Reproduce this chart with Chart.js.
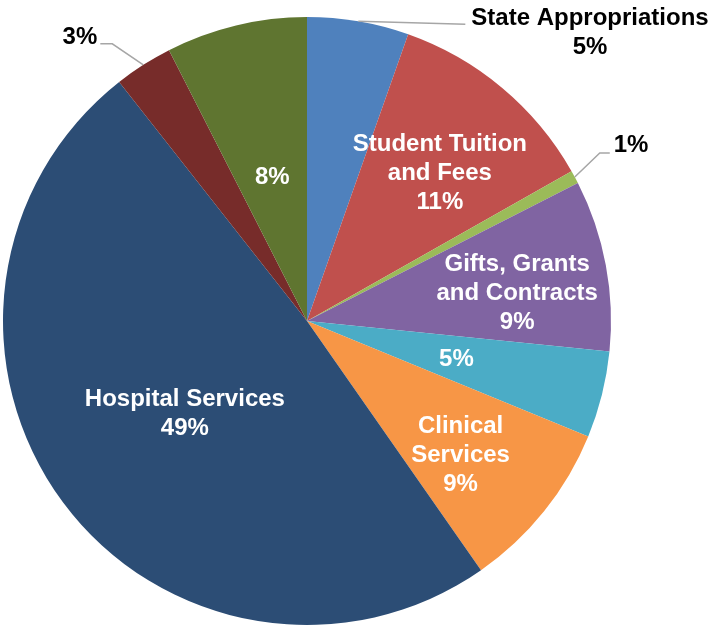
<!DOCTYPE html>
<html>
<head>
<meta charset="utf-8">
<script src="https://cdn.jsdelivr.net/npm/chart.js@4/dist/chart.umd.min.js"></script>
<style>
  html, body { margin: 0; padding: 0; background: #ffffff; }
  #wrap { width: 717px; height: 626px; }
</style>
</head>
<body>
<div id="wrap"><canvas id="revenue" width="717" height="626"></canvas></div>
<script>
// Revenue sources, clockwise from 12 o'clock
const categories = [
  'State Appropriations',
  'Student Tuition and Fees',
  '',
  'Gifts, Grants and Contracts',
  '',
  'Clinical Services',
  'Hospital Services',
  '',
  ''
];
// Wrapped label text drawn with each slice (empty = percentage only)
const labelLines = [
  ['State Appropriations'],
  ['Student Tuition', 'and Fees'],
  [],
  ['Gifts, Grants', 'and Contracts'],
  [],
  ['Clinical', 'Services'],
  ['Hospital Services'],
  [],
  []
];
// Share of total revenue (%)
const shares = [5.4, 11.4, 0.7, 9.1, 4.6, 9.1, 49.1, 3.1, 7.5];

const sliceColors = [
  '#4F81BD', '#C0504D', '#9BBB59', '#8064A2', '#4BACC6',
  '#F79646', '#2C4D75', '#772C2A', '#5F7530'
];

// Label placement: inside slices at a fraction of the radius (plus a small nudge),
// or outside with a leader line from the slice's outer edge.
const placement = [
  { out: true, elbow: null, end: [107, 3], side: 'left', gap: 6, dy: 9 },
  { r: 0.66, nudge: [4, 6] },
  { out: true, elbow: [25, -24], end: [35, -24], side: 'left', gap: 4, dy: -8 },
  { r: 0.70, nudge: [1, 12] },
  { r: 0.50, nudge: [2, 1] },
  { r: 0.66, nudge: [-3, 9] },
  { r: 0.50, nudge: [0, 2] },
  { out: true, elbow: [-31, -21], end: [-43, -21], side: 'right', gap: 3, dy: -6 },
  { r: 0.49, nudge: [0, 1] }
];

const FONT = 'bold 24px "Liberation Sans", Arial, sans-serif';
const LINE_H = 29;

const sliceLabels = {
  id: 'sliceLabels',
  afterDatasetsDraw(chart) {
    const ctx = chart.ctx;
    const meta = chart.getDatasetMeta(0);
    const data = chart.data.datasets[0].data;
    const total = data.reduce((a, b) => a + b, 0);
    ctx.save();
    ctx.font = FONT;
    ctx.textAlign = 'center';
    ctx.textBaseline = 'middle';
    meta.data.forEach((arc, i) => {
      const p = arc.getProps(['x', 'y', 'startAngle', 'endAngle', 'outerRadius'], true);
      const mid = (p.startAngle + p.endAngle) / 2;
      const lines = labelLines[i].concat([Math.round(data[i] / total * 100) + '%']);
      const cfg = placement[i];
      let cx, cy;
      if (cfg.out) {
        const ex = p.x + Math.cos(mid) * p.outerRadius;
        const ey = p.y + Math.sin(mid) * p.outerRadius;
        const endX = ex + cfg.end[0], endY = ey + cfg.end[1];
        ctx.beginPath();
        ctx.strokeStyle = '#A6A6A6';
        ctx.lineWidth = 1.5;
        ctx.moveTo(ex, ey);
        if (cfg.elbow) ctx.lineTo(ex + cfg.elbow[0], ey + cfg.elbow[1]);
        ctx.lineTo(endX, endY);
        ctx.stroke();
        const w = Math.max(...lines.map(t => ctx.measureText(t).width));
        cx = cfg.side === 'left' ? endX + cfg.gap + w / 2 : endX - cfg.gap - w / 2;
        cy = endY + cfg.dy;
        ctx.fillStyle = '#000000';
      } else {
        const rr = p.outerRadius * cfg.r;
        cx = p.x + Math.cos(mid) * rr + cfg.nudge[0];
        cy = p.y + Math.sin(mid) * rr + cfg.nudge[1];
        ctx.fillStyle = '#FFFFFF';
      }
      lines.forEach((t, k) => {
        ctx.fillText(t, cx, cy + (k - (lines.length - 1) / 2) * LINE_H);
      });
    });
    ctx.restore();
  }
};

new Chart(document.getElementById('revenue'), {
  type: 'pie',
  data: {
    labels: categories,
    datasets: [{
      data: shares,
      backgroundColor: sliceColors,
      borderWidth: 0,
      hoverOffset: 0
    }]
  },
  options: {
    responsive: false,
    animation: false,
    layout: { padding: { left: 3, right: 106, top: 17, bottom: 1 } },
    plugins: {
      legend: { display: false },
      tooltip: { enabled: false }
    }
  },
  plugins: [sliceLabels]
});
</script>
</body>
</html>
